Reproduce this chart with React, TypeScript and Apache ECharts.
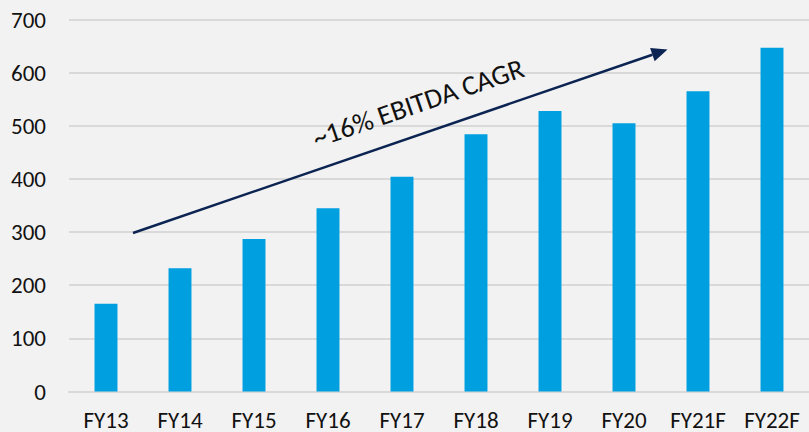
import React, { useEffect, useRef } from "react";
import * as echarts from "echarts";

const categories = ["FY13", "FY14", "FY15", "FY16", "FY17", "FY18", "FY19", "FY20", "FY21F", "FY22F"];
const ebitda = [165, 232, 287, 345, 404, 484, 528, 505, 565, 647];
const annotation = "~16% EBITDA CAGR";

export default function App() {
  const ref = useRef<HTMLDivElement>(null);
  useEffect(() => {
    const chart = echarts.init(ref.current!, null, { renderer: "svg" });
    const tip = [667.5, 49.5];
    const start = [133, 233];
    const dx = tip[0] - start[0];
    const dy = tip[1] - start[1];
    const len = Math.sqrt(dx * dx + dy * dy);
    const ux = dx / len, uy = dy / len;
    const nx = -uy, ny = ux;
    const headLen = 16, headHalf = 7;
    const bx = tip[0] - headLen * ux, by = tip[1] - headLen * uy;
    const angle = Math.atan2(-dy, dx);
    const navy = "#0b2452";
    const font = "Carlito, Lato, sans-serif";
    chart.setOption({
      animation: false,
      backgroundColor: "#f2f2f2",
      textStyle: { fontFamily: font },
      grid: { left: 69, right: -6, top: 19.5, bottom: 40.5, containLabel: false },
      xAxis: {
        type: "category",
        data: categories,
        axisLine: { show: true, lineStyle: { color: "#d9d9d9", width: 2 } },
        axisTick: { show: false },
        axisLabel: { color: "#111111", fontSize: 23, lineHeight: 22, margin: 17, fontFamily: font },
      },
      yAxis: {
        type: "value",
        min: 0,
        max: 700,
        interval: 100,
        axisLine: { show: false },
        axisTick: { show: false },
        axisLabel: { color: "#111111", fontSize: 23, margin: 23, fontFamily: font },
        splitLine: { lineStyle: { color: "#d9d9d9", width: 2 } },
      },
      series: [
        {
          type: "bar",
          data: ebitda,
          barWidth: "31%",
          itemStyle: { color: "#009fdf" },
        },
      ],
      graphic: [
        {
          type: "line",
          shape: { x1: start[0], y1: start[1], x2: bx, y2: by },
          style: { stroke: navy, lineWidth: 2.5 },
          z: 10,
        },
        {
          type: "polygon",
          shape: {
            points: [
              [tip[0], tip[1]],
              [bx + headHalf * nx, by + headHalf * ny],
              [bx - headHalf * nx, by - headHalf * ny],
            ],
          },
          style: { fill: navy },
          z: 10,
        },
        {
          type: "text",
          x: 418,
          y: 103,
          rotation: angle,
          style: {
            text: annotation,
            fontSize: 28,
            fontFamily: font,
            fill: "#111111",
            textAlign: "center",
            textVerticalAlign: "middle",
          },
          z: 10,
        },
      ],
    });
    return () => chart.dispose();
  }, []);
  return <div ref={ref} style={{ position: "fixed", left: 0, top: 0, width: 809, height: 432 }} />;
}
